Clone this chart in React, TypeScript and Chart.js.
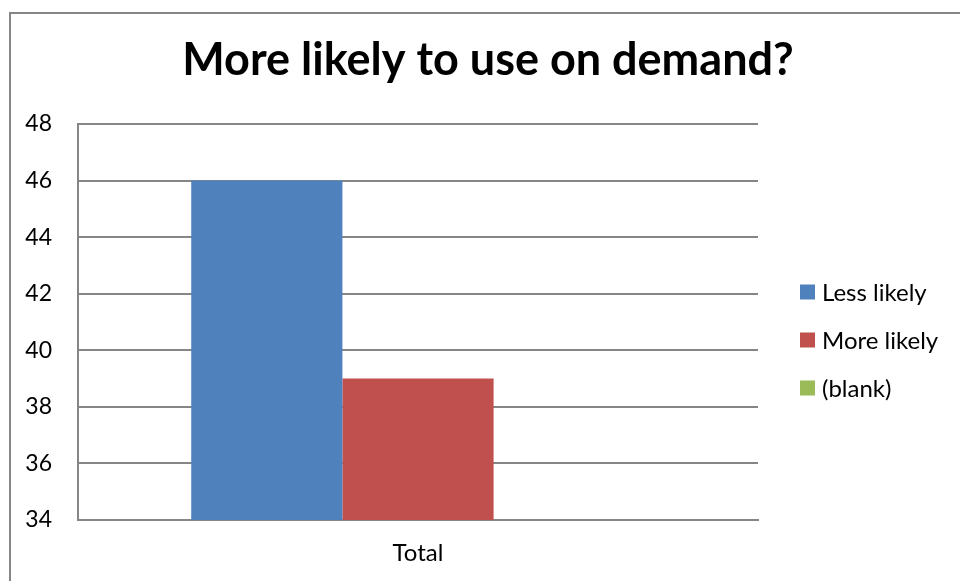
import React, { useEffect, useRef } from "react";
import { Chart, registerables } from "chart.js";

Chart.register(...registerables);

const categories = ["Total"];
const seriesNames = ["Less likely", "More likely", "(blank)"];
const lessLikely = [46];
const moreLikely = [39];
const blank: (number | null)[] = [null];
const seriesColors = ["#4F81BD", "#C0504D", "#9BBB59"];
const yMin = 34;
const yMax = 48;
const yStep = 2;
const titleText = "More likely to use on demand?";

const FONT = "Lato, 'Liberation Sans', Arial, sans-serif";
const GRID = "#868686";

const sideLegend = {
  id: "sideLegend",
  afterDraw(chart: any) {
    const ctx = chart.ctx;
    const area = chart.chartArea;
    const x = area.right + 42;
    const rowGap = 48;
    const n = chart.data.datasets.length;
    const midY = (area.top + area.bottom) / 2 + 18;
    const startY = midY - ((n - 1) * rowGap) / 2;
    ctx.save();
    ctx.font = `24px ${FONT}`;
    ctx.textBaseline = "middle";
    ctx.textAlign = "left";
    chart.data.datasets.forEach((ds: any, i: number) => {
      const y = startY + i * rowGap;
      ctx.fillStyle = ds.backgroundColor;
      ctx.fillRect(x, y - 7.5, 15, 15);
      ctx.fillStyle = "#000";
      ctx.fillText(ds.label, x + 22, y + 1);
    });
    ctx.restore();
  },
};

export default function App() {
  const ref = useRef<HTMLCanvasElement | null>(null);

  useEffect(() => {
    if (!ref.current) return;
    const chart = new Chart(ref.current, {
      type: "bar",
      data: {
        labels: categories,
        datasets: [
          { label: seriesNames[0], data: lessLikely, backgroundColor: seriesColors[0] },
          { label: seriesNames[1], data: moreLikely, backgroundColor: seriesColors[1] },
          { label: seriesNames[2], data: blank, backgroundColor: seriesColors[2] },
        ],
      },
      options: {
        responsive: false,
        animation: false,
        layout: { padding: { top: 0, left: 16, right: 0, bottom: 0 } },
        datasets: { bar: { categoryPercentage: 0.667, barPercentage: 1 } },
        plugins: {
          title: {
            display: true,
            text: titleText,
            color: "#000",
            font: { family: FONT, size: 45, weight: "bold" },
            padding: { top: 33, bottom: 37 },
          },
          legend: { display: false },
          tooltip: { enabled: false },
        },
        scales: {
          x: {
            grid: { display: false, drawTicks: false },
            border: { display: true, color: GRID, width: 2 },
            ticks: { color: "#000", font: { family: FONT, size: 24 }, padding: 19 },
            afterFit: (s: any) => { s.height = 61; },
          },
          y: {
            min: yMin,
            max: yMax,
            grid: { color: GRID, lineWidth: 2, drawTicks: false },
            border: { display: true, color: GRID, width: 2 },
            ticks: { stepSize: yStep, color: "#000", font: { family: FONT, size: 23 }, padding: 26 },
            afterFit: (s: any) => { s.width = 62; },
          },
          legendSpace: {
            type: "linear",
            position: "right",
            display: true,
            grid: { display: false, drawTicks: false },
            border: { display: false },
            ticks: { display: false },
            afterFit: (s: any) => { s.width = 202; },
          },
        },
      },
      plugins: [sideLegend],
    });
    return () => chart.destroy();
  }, []);

  return (
    <div style={{ position: "fixed", left: 0, top: 0, width: 960, height: 581, overflow: "hidden", background: "#fff" }}>
      <div style={{ position: "absolute", left: 9, top: 12, width: 1200, height: 800, border: "2px solid #868686", boxSizing: "border-box" }} />
      <canvas ref={ref} width={960} height={581} style={{ position: "absolute", left: 0, top: 0 }} />
    </div>
  );
}
